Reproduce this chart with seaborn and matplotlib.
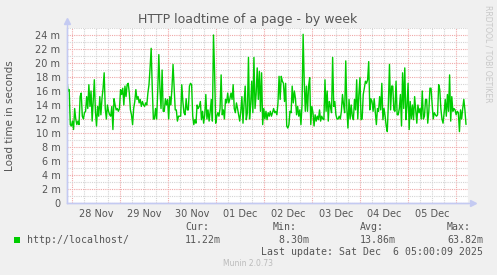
import matplotlib
matplotlib.use("Agg")
import matplotlib.pyplot as plt
import matplotlib.dates as mdates
from matplotlib.ticker import MultipleLocator, FuncFormatter
from matplotlib.patches import Rectangle
import seaborn as sns
import pandas as pd

# ---- data (load time, in milliseconds "m") ----
series_label = "http://localhost/"
start_time = "2025-11-27 21:30"
end_time = "2025-12-06 05:00"
view_end = "2025-12-06 06:00"

load_part1 = [17.4, 16, 16.2, 11.2, 11, 11.7, 10.5, 13.5, 12, 11.2, 11.7, 11.2, 15.2, 15.7, 12.4, 12, 12.9,
              13.1, 15.2, 13.5, 16.9, 13.8, 16, 11.7, 14.8, 17.6, 13.1, 11, 13.8, 12.4, 15.2, 12.6, 14.9,
              16.4, 18.6, 13.5, 12, 14, 13.1, 12.6, 12.4, 13.8, 10.5, 14.9, 14, 13.3, 13.5, 13.1, 13.5,
              16.2, 15.5, 16.4, 14, 16.7, 15.2, 16.9, 17.1, 15.7, 13.3, 12.6, 11.2, 13.5, 14.5, 16.2, 14.8,
              15.2, 14.3, 14.8, 13.8, 14.5, 14, 13.8, 14.3, 14, 15.7, 16.9, 19.3, 22.1, 16.4, 12, 12, 13.5,
              12, 16, 21.2, 16.4, 13.5, 19, 13.1, 13.1, 14.9, 14, 14.8, 12, 15.2]
load_part2 = [14, 16.4, 19.8, 16.7, 13.3, 13.3, 11.7, 12.4, 12.4, 12.4, 16.9, 14.5, 12.9, 12.6, 14.9, 13.3,
              13.3, 16.7, 17.1, 16.9, 12.4, 11.2, 11.9, 11.4, 14, 13.5, 13.8, 14.5, 11.9, 13.1, 11.4, 12.6,
              15.5, 12, 13.3, 11.7, 13.1, 14.8, 11.7, 24, 18.8, 11.4, 12.4, 12.9, 12.4, 13.5, 18.3, 12.6,
              13.3, 12, 14.8, 14.3, 15.7, 14.3, 14.9, 15.7, 14.8, 16.9, 13.5, 12.9, 14.3, 13.5, 12.6, 11.7,
              13.1, 15.2, 11.4, 14.3, 16.7, 11.9, 12.9, 20.8, 12, 14, 17.4, 12.9, 20.8, 13.5, 15.5, 19.3,
              14.8, 18.8, 13.1, 18.6, 11.2, 13.5, 12, 13.1, 11.9, 12.9, 12.4, 13.1, 12.4, 12.9, 13.5]
load_part3 = [12.9, 13.1, 12.6, 14.3, 18.1, 14.8, 18.1, 17.4, 17.1, 14.5, 17.1, 11, 10.7, 11.2, 13.1, 12.9,
              16.7, 14.3, 16, 14.9, 12.6, 13.8, 12.4, 13.3, 11.2, 14, 24.1, 17.4, 13.1, 16.7, 13.1, 16.7,
              17.9, 11.2, 13.8, 12.9, 11, 12.6, 11.7, 12.4, 11.9, 13.3, 11.7, 12.4, 12, 11.9, 17.6, 13.1,
              16, 11.7, 14.5, 13.8, 12.9, 20.8, 13.8, 14.5, 12.6, 12, 12, 12.4, 12, 13.1, 15.5, 14, 12.9,
              20.3, 13.5, 10.7, 14.8, 12, 14, 12.4, 11.9, 14.8, 13.3, 17.6, 12, 15.5, 17.9, 11.9, 12, 15.5,
              16.4, 17.4, 17.1, 17.6, 20.2, 13.3, 14.9, 14.5, 13.1, 14.9, 13.1, 11.2]
load_part4 = [13.5, 13.1, 15.2, 13.3, 17.1, 11.9, 13.5, 12.4, 11, 10.2, 14.3, 19.8, 13.3, 16.7, 16.7, 13.3,
              13.1, 17.4, 12.6, 12.6, 13.5, 15.5, 11, 18.6, 13.5, 19.3, 11.9, 13.8, 17.1, 10.5, 14.5, 12,
              14, 11.9, 15.2, 13.3, 11.4, 14, 12.9, 13.5, 12, 16, 12, 12.4, 14.8, 14.8, 11.4, 13.1, 16.4,
              16.4, 14.3, 12, 12.9, 12.6, 12.4, 12.6, 16.9, 16.2, 13.5, 12, 11.4, 12.9, 14.8, 12.4, 15.5,
              13.1, 18.3, 11.7, 15.2, 13.1, 13.5, 13.3, 12.6, 13.1, 12.9, 10.2, 13.3, 12, 13.5, 14.8, 13.3,
              11.22]

legend_stats_names = ["Cur:", "Min:", "Avg:", "Max:"]
legend_stats_values = ["11.22m", " 8.30m", "13.86m", "63.82m"]
last_update = "Last update: Sat Dec  6 05:00:09 2025"

values = load_part1 + load_part2 + load_part3 + load_part4
times = pd.date_range(start_time, end_time, periods=len(values))
df = pd.DataFrame({"time": times, "load": values})

# ---- style ----
sns.set_style("white")
plt.rcParams["font.family"] = ["DejaVu Sans"]

W, H = 497, 275
BG = "#F0F0F0"
TXT = "#555555"
AXC = "#C4CAF2"
fig = plt.figure(figsize=(W / 100, H / 100), dpi=100, facecolor=BG)
L, R, T, B = 67, 468, 28, 203
ax = fig.add_axes([L / W, 1 - B / H, (R - L) / W, (B - T) / H])
ax.set_facecolor("white")

sns.lineplot(data=df, x="time", y="load", ax=ax, color="#00CC00", linewidth=1.0)

ax.set_xlim(pd.Timestamp(start_time), pd.Timestamp(view_end))
ax.set_ylim(0, 25)

# y axis
ax.yaxis.set_major_locator(MultipleLocator(2))
ax.yaxis.set_minor_locator(MultipleLocator(1))
ax.yaxis.set_major_formatter(FuncFormatter(lambda v, p: "0" if v == 0 else f"{int(v)} m"))

# x axis: midnight majors (red), 6h minors (grey), labels at noon
ax.xaxis.set_major_locator(mdates.DayLocator())
ax.xaxis.set_major_formatter(FuncFormatter(lambda v, p: ""))
ax.xaxis.set_minor_locator(mdates.HourLocator(byhour=[6, 12, 18]))
def noon_label(v, p):
    d = mdates.num2date(v)
    return d.strftime("%d %b") if d.hour == 12 else ""
ax.xaxis.set_minor_formatter(FuncFormatter(noon_label))

ax.grid(which="major", color="#F0A8A8", linestyle=(0, (1, 1)), linewidth=0.8)
ax.grid(which="minor", color="#D4D4D4", linestyle=(0, (1, 1)), linewidth=0.8)
ax.set_axisbelow(True)

ax.tick_params(axis="both", which="major", length=2.2, width=0.8, color="#F0A8A8",
               labelsize=7, labelcolor=TXT, pad=2.5)
ax.tick_params(axis="both", which="minor", length=2.2, width=0.8, color="#D4D4D4",
               labelsize=7, labelcolor=TXT, pad=2.5)
ax.tick_params(axis="x", which="minor", length=0, pad=4.6)
ax.set_xlabel("")
ax.set_ylabel("")

for s in ["top", "right"]:
    ax.spines[s].set_visible(False)
for s in ["left", "bottom"]:
    ax.spines[s].set_color(AXC)
    ax.spines[s].set_linewidth(1.0)
ax.plot([0, 1.008], [0, 0], transform=ax.transAxes, color=AXC, lw=1.0, clip_on=False)
ax.plot([0, 0], [0, 1.03], transform=ax.transAxes, color=AXC, lw=1.0, clip_on=False)
ax.plot([1.012], [0], marker=">", color=AXC, markersize=4, transform=ax.transAxes, clip_on=False)
ax.plot([0], [1.04], marker="^", color=AXC, markersize=4, transform=ax.transAxes, clip_on=False)

# ---- texts ----
fig.text(248 / W, 1 - 19 / H, "HTTP loadtime of a page - by week", ha="center", va="center",
         fontsize=9, color=TXT)
fig.text(10 / W, 1 - 116 / H, "Load time in seconds", ha="center", va="center",
         rotation=90, fontsize=7.5, color=TXT)
fig.text(488 / W, 1 - 5 / H, "RRDTOOL / TOBI OETIKER", ha="center", va="top",
         rotation=270, fontsize=5.5, color="#C8C8C8")

mono = "DejaVu Sans Mono"
fs = 7.1
fig.patches.append(Rectangle((14 / W, 1 - 243 / H), 6 / W, 6 / H, transform=fig.transFigure,
                             facecolor="#00CC00", edgecolor="none"))
fig.text(27 / W, 1 - 240 / H, series_label, family=mono, fontsize=fs, color=TXT, va="center")
stat_x = [185, 273, 360, 447]
for name, val, x in zip(legend_stats_names, legend_stats_values, stat_x):
    fig.text(x / W, 1 - 227 / H, name, family=mono, fontsize=fs, color=TXT, va="center")
    fig.text(x / W, 1 - 240 / H, val, family=mono, fontsize=fs, color=TXT, va="center")
fig.text(483 / W, 1 - 252 / H, last_update, family=mono, fontsize=fs, color=TXT, va="center", ha="right")
fig.text(248 / W, 1 - 264 / H, "Munin 2.0.73", fontsize=5.5, color="#BBBBBB", ha="center", va="center")

fig.savefig("out.png", dpi=100, facecolor=BG)
